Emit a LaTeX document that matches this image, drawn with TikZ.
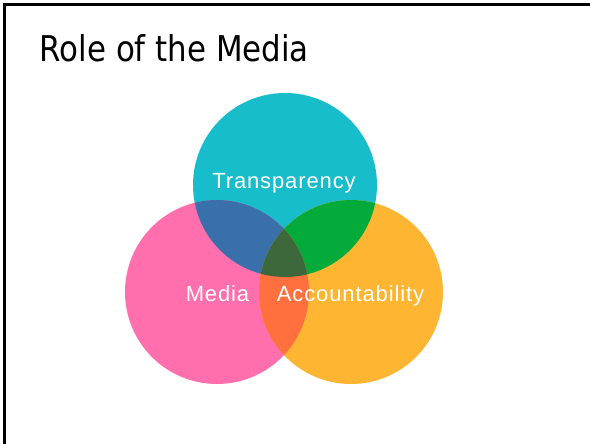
\documentclass[tikz,border=0pt]{standalone}
\usepackage{fontspec}
\setmainfont{Liberation Sans}
\newfontfamily\titlefont{DejaVu Sans}[FakeStretch=0.87]
\newfontfamily\labelfont{Liberation Sans}[LetterSpace=4]
\definecolor{cyanc}{RGB}{24,189,204}
\definecolor{pinkc}{RGB}{255,111,174}
\definecolor{orangec}{RGB}{253,181,50}
\definecolor{blueov}{RGB}{58,112,170}
\definecolor{greenov}{RGB}{4,170,58}
\definecolor{redov}{RGB}{255,112,62}
\definecolor{centerov}{RGB}{60,104,60}
\tikzset{
  venntext/.style={text=white, inner sep=0pt, anchor=base, font=\labelfont\fontsize{22}{24}\selectfont},
  titletext/.style={text=black, inner sep=0pt, anchor=base west, font=\titlefont\fontsize{35.5}{40}\selectfont},
  framer/.style={draw=black, line width=2.5pt}
}
\begin{document}
\begin{tikzpicture}[x=1pt,y=-1pt]
\useasboundingbox (0,0) rectangle (590,444);
\fill[white] (0,0) rectangle (590,444);
\coordinate (fa) at (4.5,444);
\coordinate (fb) at (4.5,4.5);
\coordinate (fc) at (590,4.5);
\draw[framer] (fa) -- (fb) -- (fc);
\node[titletext] (title) at (39.5,62) {Role of the Media};
\coordinate (C) at (285,185);
\coordinate (P) at (217,292);
\coordinate (O) at (351,292);
\fill[cyanc] (C) circle[radius=92pt];
\fill[pinkc] (P) circle[radius=92pt];
\fill[orangec] (O) circle[radius=92pt];
\begin{scope}
  \clip (C) circle[radius=92pt];
  \fill[blueov] (P) circle[radius=92pt];
  \fill[greenov] (O) circle[radius=92pt];
\end{scope}
\begin{scope}
  \clip (P) circle[radius=92pt];
  \fill[redov] (O) circle[radius=92pt];
\end{scope}
\begin{scope}
  \clip (C) circle[radius=92pt];
  \clip (P) circle[radius=92pt];
  \fill[centerov] (O) circle[radius=92pt];
\end{scope}
\node[venntext] (transp) at (284,188) {Transparency};
\node[venntext] (media) at (217.5,301) {Media};
\node[venntext] (acc) at (350.5,301) {Accountability};
\end{tikzpicture}
\end{document}
